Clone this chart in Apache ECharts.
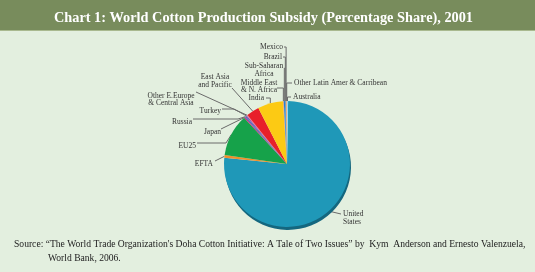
<!DOCTYPE html>
<html>
<head>
<meta charset="utf-8">
<script src="https://cdn.jsdelivr.net/npm/echarts@6/dist/echarts.min.js"></script>
<style>html,body{margin:0;padding:0;background:#e3efdf;}#c{width:535px;height:272px;}</style>
</head>
<body>
<div id="c"></div>
<script>
// ---- data ----
const regions = ["United\nStates", "EFTA", "EU25", "Japan", "Russia", "Turkey",
  "Other E.Europe\n& Central Asia", "East Asia\nand Pacific", "India",
  "Middle East\n& N. Africa", "Sub-Saharan\nAfrica", "Brazil", "Mexico",
  "Other Latin Amer & Carribean", "Australia"];
const shares = [76.4, 0.7, 10.8, 0.3, 0.3, 0.3, 0.2, 3.3, 6.5, 0.2, 0.3, 0.2, 0.2, 0.1, 0.3];
const sliceColors = ["#1f98b8", "#f0902a", "#16a24a", "#d8237e", "#2f6fc4", "#8a4fb0", "#e86ca0",
  "#e8202a", "#fcca14", "#f2a070", "#2a80d2", "#3a8ad8", "#f08a30", "#f4b090", "#9ed6ee"];
const chartTitle = "Chart 1: World Cotton Production Subsidy (Percentage Share), 2001";
const sourceLine1 = "Source: \u201cThe World Trade Organization's Doha Cotton Initiative: A Tale of Two Issues\u201d by  Kym  Anderson and Ernesto Valenzuela,";
const sourceLine2 = "World Bank, 2006.";

// ---- label layout (text anchor, alignment, leader-line routing) ----
const labelPos = [
  {x: 343, y: 218, align: 'left',   pts: [[341, 214]]},
  {x: 213, y: 164, align: 'right',  pts: [[215, 161]]},
  {x: 196, y: 146, align: 'right',  pts: [[226, 143], [197, 143]]},
  {x: 221, y: 132, align: 'right',  pts: [[221, 129]]},
  {x: 192, y: 122, align: 'right',  pts: [[238, 119], [193, 119]]},
  {x: 221, y: 111, align: 'right',  pts: [[234, 109], [222, 109]]},
  {x: 171, y: 99.5, align: 'center', pts: [[196, 92]]},
  {x: 215, y: 81, align: 'center',  pts: [[232, 88]]},
  {x: 264, y: 98, align: 'right',   v: 98, end: 266},
  {x: 259, y: 86.5, align: 'center', v: 88, end: 277},
  {x: 264, y: 70, align: 'center',  v: 68, end: 284},
  {x: 282, y: 57, align: 'right',   v: 57, end: 283},
  {x: 283, y: 47, align: 'right',   v: 47, end: 284},
  {x: 294, y: 83, align: 'left',    v: 83, end: 292},
  {x: 293, y: 97, align: 'left',    v: 97, end: 291}
];

const pieData = regions.map((n, i) => {
  const d = {name: n, value: shares[i], itemStyle: {color: sliceColors[i]}};
  if (i === 0) {
    d.itemStyle.shadowColor = '#14677f';
    d.itemStyle.shadowOffsetY = 3;
    d.itemStyle.shadowOffsetX = 1;
    d.itemStyle.shadowBlur = 0;
  }
  return d;
});

const chart = echarts.init(document.getElementById('c'), null, {renderer: 'canvas'});
chart.setOption({
  backgroundColor: '#e3efdf',
  animation: false,
  title: {
    text: chartTitle,
    left: 49,
    top: 6,
    textStyle: {color: '#ffffff', fontFamily: 'Liberation Serif', fontWeight: 'bold', fontSize: 14.3}
  },
  graphic: [
    {type: 'rect', z: -10, shape: {x: 0, y: 0, width: 535, height: 30}, style: {fill: '#788c5c'}},
    {type: 'rect', z: -10, shape: {x: 0, y: 30, width: 535, height: 1}, style: {fill: '#a9b98f'}},
    {type: 'text', left: 14, top: 239, style: {text: sourceLine1, fontFamily: 'Liberation Serif', fontSize: 9.6, fill: '#222'}},
    {type: 'text', left: 48, top: 253, style: {text: sourceLine2, fontFamily: 'Liberation Serif', fontSize: 9.6, fill: '#222'}}
  ],
  series: [{
    type: 'pie',
    center: [287, 164],
    radius: [0, 63],
    startAngle: 89,
    clockwise: true,
    minAngle: 0,
    avoidLabelOverlap: false,
    data: pieData,
    label: {
      show: true,
      position: 'outside',
      fontFamily: 'Liberation Serif',
      fontSize: 7.5,
      lineHeight: 7.5,
      color: '#333',
      formatter: '{b}'
    },
    labelLine: {show: true, length: 5, length2: 5, lineStyle: {color: '#6a6a6a', width: 1}},
    itemStyle: {borderWidth: 0},
    emphasis: {disabled: true},
    labelLayout: function (params) {
      const p = labelPos[params.dataIndex];
      const start = params.labelLinePoints ? params.labelLinePoints[0] : [287, 164];
      let pts;
      if (p.v !== undefined) {
        pts = [start, [start[0], p.v], [p.end, p.v]];
      } else if (p.pts.length === 2) {
        pts = [start, p.pts[0], p.pts[1]];
      } else {
        pts = [start, p.pts[0], p.pts[0]];
      }
      return {x: p.x, y: p.y, align: p.align, verticalAlign: 'middle', labelLinePoints: pts};
    }
  }]
});
</script>
</body>
</html>
